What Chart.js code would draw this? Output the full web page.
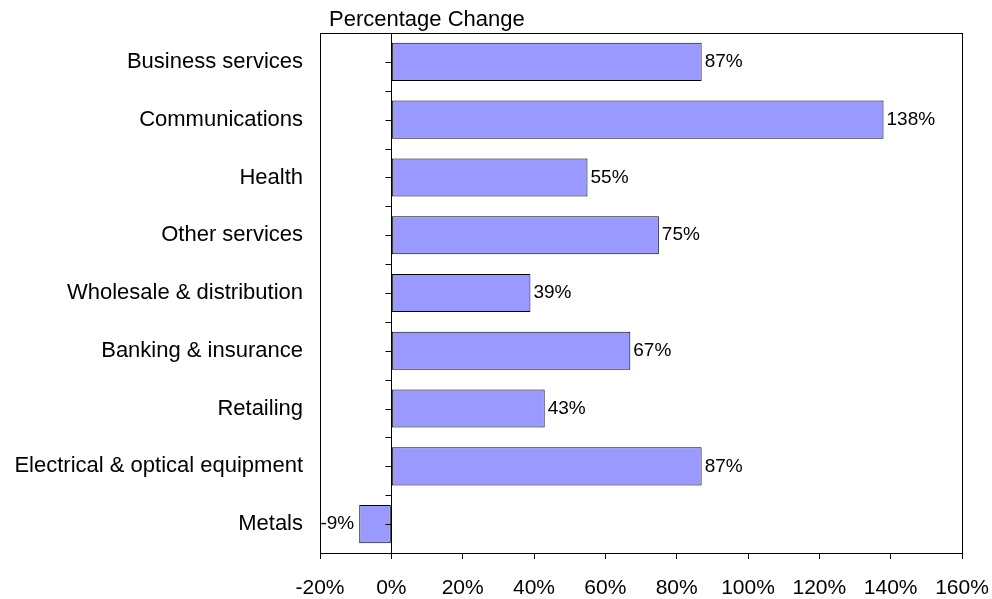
<!DOCTYPE html>
<html>
<head>
<meta charset="utf-8">
<script src="https://cdn.jsdelivr.net/npm/chart.js@4/dist/chart.umd.min.js"></script>
<style>
  html, body { margin: 0; padding: 0; background: #fff; }
  #wrap { width: 992px; height: 599px; }
</style>
</head>
<body>
<div id="wrap"><canvas id="chart" width="992" height="599"></canvas></div>
<script>
// 数据
const categories = [
  'Business services',
  'Communications',
  'Health',
  'Other services',
  'Wholesale & distribution',
  'Banking & insurance',
  'Retailing',
  'Electrical & optical equipment',
  'Metals'
];
const changeValues = [87, 138, 55, 75, 39, 67, 43, 87, -9];
const xTickMin = -20;
const xTickMax = 160;
const xTickStep = 20;
const chartTitle = 'Percentage Change';

const FONT = "'Liberation Sans', Arial, Helvetica, sans-serif";

// 外框、零轴线、标题和数据标签
const framePlugin = {
  id: 'frame',
  afterDraw(chart) {
    const { ctx, chartArea: a, scales } = chart;
    const x0 = Math.round(scales.x.getPixelForValue(0)) + 0.5;
    ctx.save();
    ctx.strokeStyle = '#000';
    ctx.lineWidth = 1;
    ctx.strokeRect(Math.round(a.left) + 0.5, Math.round(a.top) + 0.5,
      Math.round(a.right - a.left), Math.round(a.bottom - a.top));

    // 零轴线及刻度
    ctx.beginPath();
    ctx.moveTo(x0, a.top);
    ctx.lineTo(x0, a.bottom);
    const n = categories.length * 2;
    for (let i = 0; i <= n; i++) {
      const y = Math.round(a.top + i * (a.bottom - a.top) / n) + 0.5;
      ctx.moveTo(x0 - 6, y);
      ctx.lineTo(x0, y);
    }
    ctx.stroke();

    // 标题
    ctx.fillStyle = '#000';
    ctx.font = '22px ' + FONT;
    ctx.textAlign = 'left';
    ctx.textBaseline = 'alphabetic';
    ctx.fillText(chartTitle, 329, 26);

    // 数据标签
    ctx.font = '19px ' + FONT;
    ctx.textBaseline = 'middle';
    const meta = chart.getDatasetMeta(0);
    meta.data.forEach((bar, i) => {
      const v = changeValues[i];
      if (v >= 0) {
        ctx.textAlign = 'left';
        ctx.fillText(v + '%', bar.x + 3, bar.y);
      } else {
        ctx.textAlign = 'right';
        ctx.fillText(v + '%', bar.x - 5, bar.y);
      }
    });
    ctx.restore();
  }
};

new Chart(document.getElementById('chart'), {
  type: 'bar',
  data: {
    labels: categories,
    datasets: [{
      data: changeValues,
      backgroundColor: '#9999FF',
      borderColor: '#000000',
      borderWidth: 1,
      borderSkipped: false,
      categoryPercentage: 1,
      barPercentage: 0.66
    }]
  },
  options: {
    indexAxis: 'y',
    responsive: false,
    animation: false,
    events: [],
    layout: { padding: { top: 33, right: 30, left: 0, bottom: 0 } },
    plugins: {
      legend: { display: false },
      title: { display: false },
      tooltip: { enabled: false }
    },
    scales: {
      x: {
        min: xTickMin,
        max: xTickMax,
        afterFit(scale) {
          scale.height = 46;
          scale.paddingLeft = 0;
          scale.paddingRight = 0;
        },
        ticks: {
          stepSize: xTickStep,
          padding: 17,
          color: '#000',
          font: { family: FONT, size: 21 },
          callback: v => v + '%'
        },
        grid: {
          display: true,
          drawOnChartArea: false,
          drawTicks: true,
          tickLength: 6,
          tickColor: '#000',
          color: '#000'
        },
        border: { display: true, color: '#000', width: 1 }
      },
      y: {
        afterFit(scale) {
          scale.width = 320;
          scale.paddingTop = 0;
          scale.paddingBottom = 0;
        },
        ticks: {
          padding: 17,
          color: '#000',
          font: { family: FONT, size: 22 }
        },
        grid: { display: false, drawTicks: false },
        border: { display: false }
      }
    }
  },
  plugins: [framePlugin]
});
</script>
</body>
</html>
